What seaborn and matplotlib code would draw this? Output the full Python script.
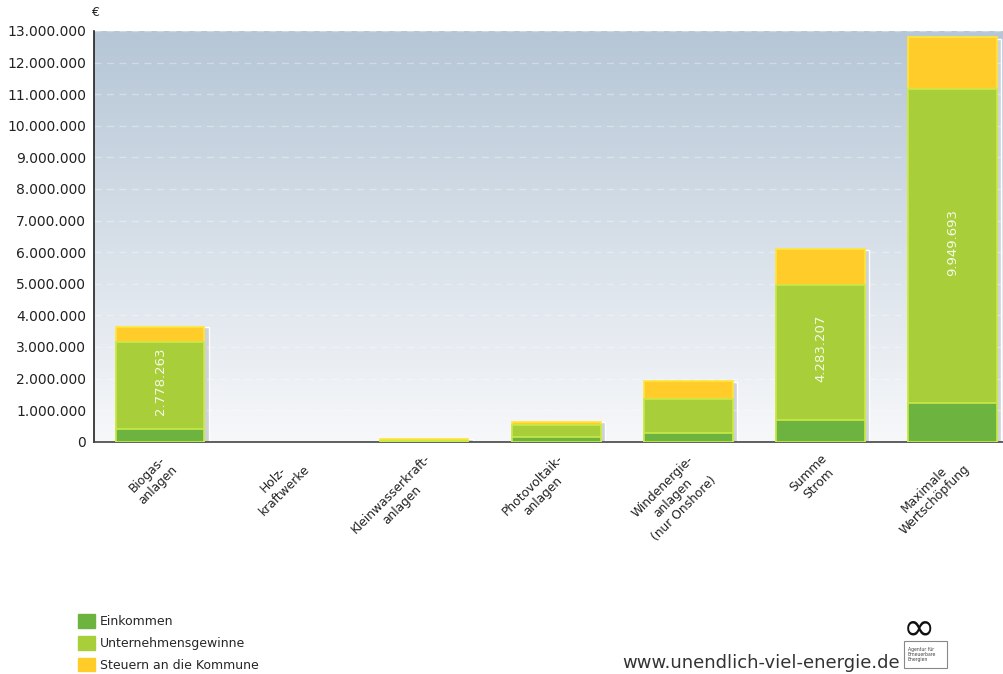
import matplotlib
matplotlib.use("Agg")
import matplotlib.pyplot as plt
import numpy as np
import seaborn as sns
from matplotlib.patches import Patch, Rectangle
from matplotlib.colors import LinearSegmentedColormap

# data (EUR)
categories = ["Biogas-\nanlagen", "Holz-\nkraftwerke", "Kleinwasserkraft-\nanlagen",
              "Photovoltaik-\nanlagen", "Windenergie-\nanlagen\n(nur Onshore)",
              "Summe\nStrom", "Maximale\nWertschöpfung"]
einkommen = [390000, 0, 10000, 140000, 290000, 680000, 1210000]
gewinne = [2778263, 0, 20000, 400000, 1060000, 4283207, 9949693]
steuern = [470000, 0, 70000, 80000, 560000, 1140000, 1640000]
labelled = [0, 5, 6]  # bars with a value label on the Gewinne segment

series_names = ["Einkommen", "Unternehmensgewinne", "Steuern an die Kommune"]
c_ein, c_gew, c_st = "#6db33f", "#a8cf3a", "#ffcc29"
e_gew, e_st = "#c8e94a", "#ffe53a"

ein = np.array(einkommen, dtype=float)
gew = np.array(gewinne, dtype=float)
st = np.array(steuern, dtype=float)
mid = ein + gew
total = mid + st

sns.set_style("white")
plt.rcParams["font.family"] = ["DejaVu Sans"]

W, H = 1004, 674
fig = plt.figure(figsize=(W / 100, H / 100), dpi=100)
x0, y0, y1 = 94, 441.7, 31
ax = fig.add_axes([x0 / W, (H - y0) / H, (W - x0) / W, (y0 - y1) / H])

# gradient background
grad = np.linspace(0, 1, 256).reshape(-1, 1)
cmap = LinearSegmentedColormap.from_list("bg", ["#f7f8fa", "#b5c6d6"])
ax.imshow(grad, extent=[0, 1, 0, 1], transform=ax.transAxes, aspect="auto",
          cmap=cmap, origin="lower", zorder=0)

pos = np.arange(len(categories))
bw = 0.67
# drop shadow
ax.bar(pos + 0.032, total * 0.995, width=bw, color="#cdd2d8", zorder=1)

sns.barplot(x=categories, y=total, color=c_st, edgecolor=e_st, linewidth=1.2,
            saturation=1, width=bw, errorbar=None, ax=ax, zorder=2)
sns.barplot(x=categories, y=mid, color=c_gew, edgecolor=e_gew, linewidth=1.2,
            saturation=1, width=bw, errorbar=None, ax=ax, zorder=3)
sns.barplot(x=categories, y=ein, color=c_ein, edgecolor=e_gew, linewidth=1.2,
            saturation=1, width=bw, errorbar=None, ax=ax, zorder=4)
for p in ax.patches:
    if p.get_height() == 0:
        p.set_visible(False)

for i in labelled:
    txt = f"{gewinne[i]:,}".replace(",", ".")
    ax.text(pos[i], ein[i] + gew[i] / 2 + 120000, txt, rotation=90, ha="center",
            va="center", color="white", alpha=0.88, fontsize=9.5, zorder=6)

ax.set_ylim(0, 13000000)
ax.set_xlim(-0.5, 6.39)
ax.set_yticks(np.arange(0, 13000001, 1000000))
ax.set_yticklabels([f"{int(v):,}".replace(",", ".") for v in ax.get_yticks()],
                   fontsize=10, color="#222222")
ax.set_xticks(pos)
ax.set_xticklabels(categories, rotation=45, ha="right", va="top",
                   rotation_mode="anchor", multialignment="center",
                   fontsize=8.8, color="#222222")
ax.tick_params(axis="both", direction="inout", length=7, width=1, color="#222222")
ax.tick_params(axis="x", pad=4)
ax.tick_params(axis="y", pad=2)
ax.set_xlabel("")
ax.set_ylabel("")

ax.set_axisbelow(True)
for v in np.arange(1000000, 13000001, 1000000):
    ax.axhline(v, color="white", lw=1, ls=(0, (5, 4)), alpha=0.35, zorder=1)
for s in ["top", "right"]:
    ax.spines[s].set_visible(False)
ax.spines["left"].set_color("#222222")
ax.spines["bottom"].set_color("#444444")
ax.spines["left"].set_linewidth(1.2)
ax.spines["bottom"].set_linewidth(1.2)

fig.text(95 / W, 1 - 12 / H, "€", fontsize=9, ha="center", va="center", color="#222222")

handles = [Patch(facecolor=c, edgecolor=c) for c in (c_ein, c_gew, c_st)]
fig.legend(handles, series_names, loc="upper left",
           bbox_to_anchor=(72 / W, 1 - 608 / H), frameon=False, fontsize=9,
           handlelength=1.3, handleheight=1.3, labelspacing=0.62,
           handletextpad=0.4, borderpad=0)

fig.text(622 / W, 1 - 663 / H, "www.unendlich-viel-energie.de", fontsize=13,
         color="#333333", ha="left", va="center")
fig.text(919 / W, 1 - 628 / H, "∞", fontsize=28, color="#111111",
         ha="center", va="center")
fig.patches.append(Rectangle((904 / W, 1 - 668 / H), 43 / W, 27 / H,
                             transform=fig.transFigure, fill=False,
                             edgecolor="#888888", lw=0.8))
fig.text(908 / W, 1 - 655 / H, "Agentur für\nErneuerbare\nEnergien", fontsize=3.3,
         color="#444444", ha="left", va="center", linespacing=1.0)

fig.savefig("out.png", dpi=100)
